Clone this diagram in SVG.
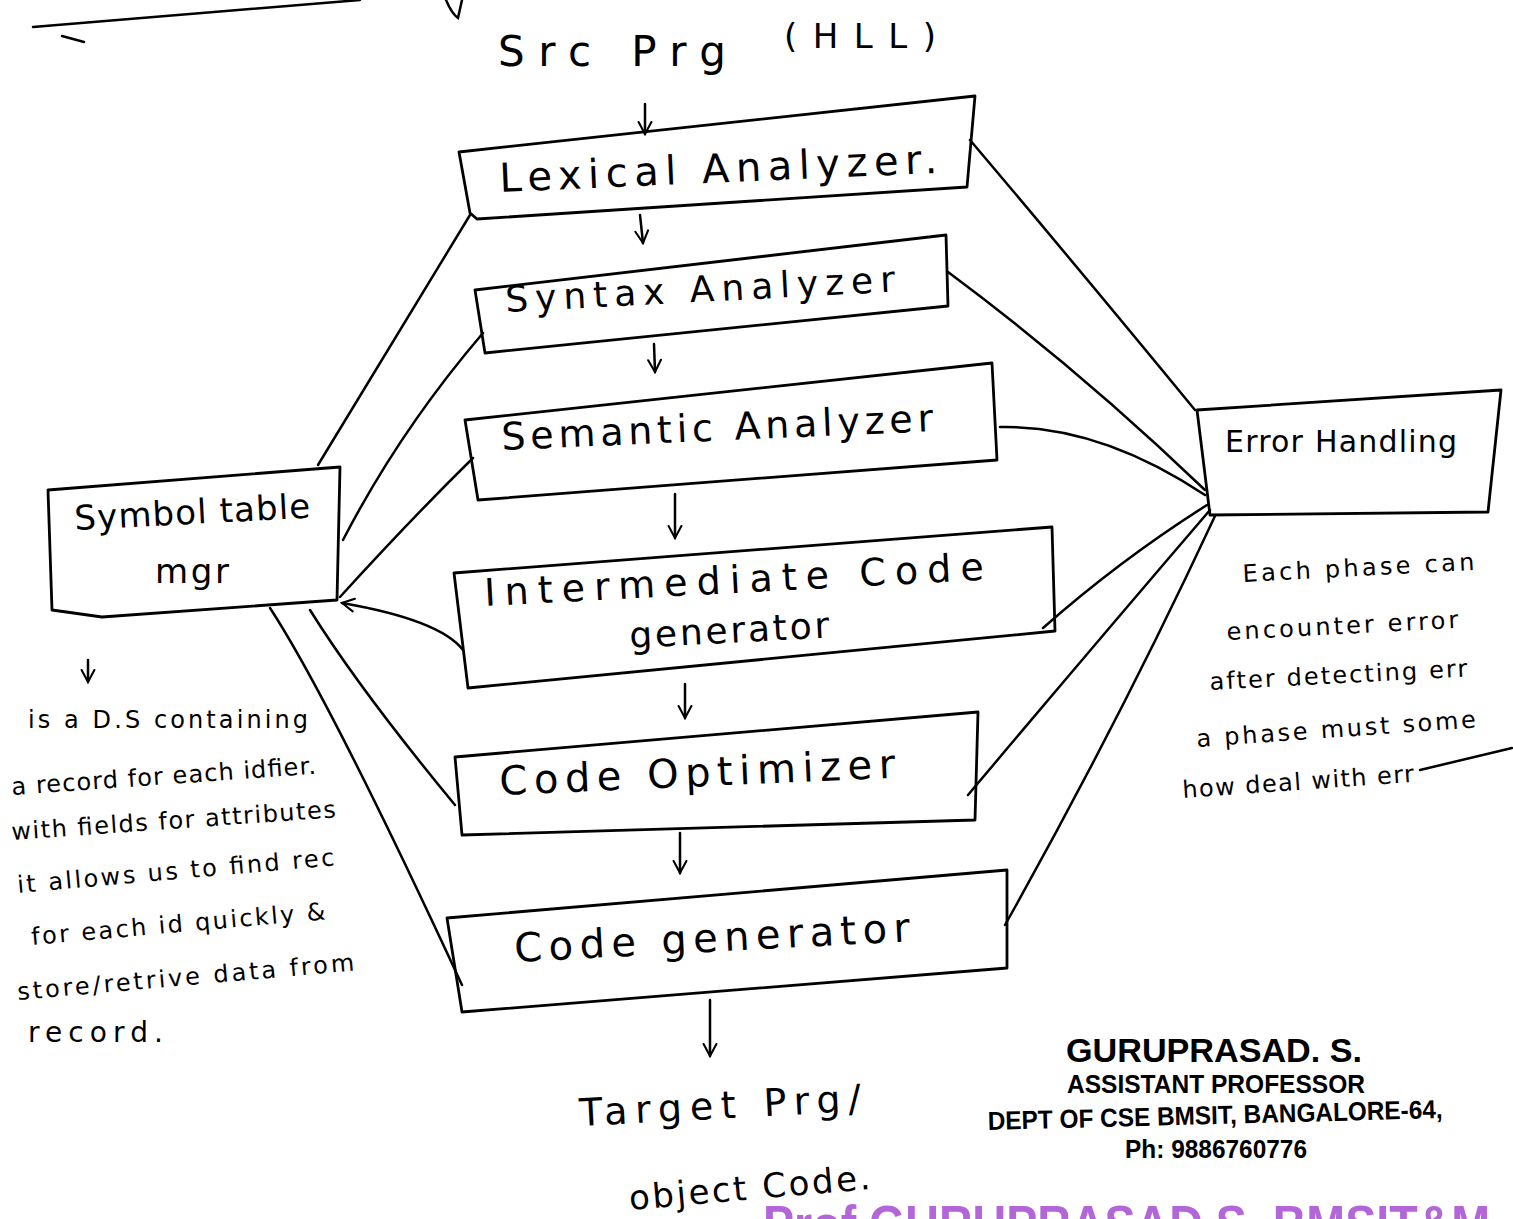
<svg xmlns="http://www.w3.org/2000/svg" width="1513" height="1219" viewBox="0 0 1513 1219">
<style>
.box{fill:none;stroke:#000;stroke-width:2.8;stroke-linejoin:round}
.ln{fill:none;stroke:#000;stroke-width:2.5;stroke-linecap:round}
.hw{font-family:"DejaVu Sans","Liberation Sans",sans-serif;fill:#000;font-weight:normal}
.stamp{font-family:"Liberation Sans",Arial,sans-serif;font-weight:bold;fill:#000}
</style>
<defs>
<marker id="ah" viewBox="0 0 20 20" refX="18" refY="10" markerWidth="16" markerHeight="16" markerUnits="userSpaceOnUse" orient="auto">
<path d="M3 2 L18 10 L3 18" fill="none" stroke="#000" stroke-width="2.6" stroke-linecap="round"/>
</marker>
</defs>
<rect width="1513" height="1219" fill="#fff"/>

<!-- stray top strokes -->
<path class="ln" d="M33 27 L360 0"/>
<path class="ln" d="M62 36 L84 42"/>
<path class="ln" d="M446 0 Q452 14 458 18 L462 0"/>

<g id="src">
<text class="hw" x="498" y="66" font-size="42" textLength="228" lengthAdjust="spacing">Src Prg</text>
<text class="hw" x="784" y="48" font-size="34" textLength="152" lengthAdjust="spacing">(HLL)</text>
</g>

<g id="lexical">
<polygon class="box" points="459,152 975,96 967,187 477,219 470,213"/>
<text class="hw" x="500" y="192" font-size="40" transform="rotate(-2.5 500 192)" textLength="438" lengthAdjust="spacing">Lexical Analyzer.</text>
</g>

<g id="syntax">
<polygon class="box" points="475,290 946,235 948,306 485,353"/>
<text class="hw" x="506" y="312" font-size="36" transform="rotate(-3 506 312)" textLength="390" lengthAdjust="spacing">Syntax Analyzer</text>
</g>

<g id="semantic">
<polygon class="box" points="465,420 992,363 997,460 478,500"/>
<text class="hw" x="502" y="450" font-size="38" transform="rotate(-2.5 502 450)" textLength="432" lengthAdjust="spacing">Semantic Analyzer</text>
</g>

<g id="intermediate">
<polygon class="box" points="454,573 1052,527 1055,631 468,688"/>
<text class="hw" x="485" y="606" font-size="38" transform="rotate(-3 485 606)" textLength="500" lengthAdjust="spacing">Intermediate Code</text>
<text class="hw" x="630" y="648" font-size="36" transform="rotate(-3 630 648)" textLength="200" lengthAdjust="spacing">generator</text>
</g>

<g id="optimizer">
<polygon class="box" points="455,757 978,712 975,820 462,835"/>
<text class="hw" x="500" y="795" font-size="40" transform="rotate(-2.5 500 795)" textLength="396" lengthAdjust="spacing">Code Optimizer</text>
</g>

<g id="codegen">
<polygon class="box" points="447,918 1007,870 1007,968 462,1012"/>
<text class="hw" x="515" y="962" font-size="40" transform="rotate(-3 515 962)" textLength="396" lengthAdjust="spacing">Code generator</text>
</g>

<g id="symtab">
<polygon class="box" points="48,490 340,467 337,600 102,617 52,610"/>
<text class="hw" x="75" y="530" font-size="34" transform="rotate(-3 75 530)" textLength="236" lengthAdjust="spacing">Symbol table</text>
<text class="hw" x="155" y="583" font-size="34" textLength="74" lengthAdjust="spacing">mgr</text>
</g>

<g id="error">
<polygon class="box" points="1197,410 1501,390 1488,512 1210,515"/>
<text class="hw" x="1225" y="452" font-size="30" textLength="232" lengthAdjust="spacing">Error Handling</text>
</g>

<g id="target">
<text class="hw" x="580" y="1126" font-size="38" transform="rotate(-3 580 1126)" textLength="282" lengthAdjust="spacing">Target Prg/</text>
<text class="hw" x="630" y="1210" font-size="34" transform="rotate(-5 630 1210)" textLength="242" lengthAdjust="spacing">object Code.</text>
</g>

<g id="connectors">
<path class="ln" d="M645 104 L645 134" marker-end="url(#ah)"/>
<path class="ln" d="M640 215 L643 243" marker-end="url(#ah)"/>
<path class="ln" d="M654 344 L655 372" marker-end="url(#ah)"/>
<path class="ln" d="M675 494 L675 538" marker-end="url(#ah)"/>
<path class="ln" d="M685 684 L685 718" marker-end="url(#ah)"/>
<path class="ln" d="M680 833 L680 873" marker-end="url(#ah)"/>
<path class="ln" d="M710 1000 L710 1056" marker-end="url(#ah)"/>
<path class="ln" d="M88 660 L88 682" marker-end="url(#ah)"/>
<path class="ln" d="M318 465 Q370 380 470 215"/>
<path class="ln" d="M343 540 Q400 430 483 333"/>
<path class="ln" d="M340 597 Q410 520 473 458"/>
<path class="ln" d="M463 650 Q440 620 342 603" marker-end="url(#ah)"/>
<path class="ln" d="M310 610 Q360 690 455 805"/>
<path class="ln" d="M270 608 Q330 700 462 985"/>
<path class="ln" d="M970 140 Q1080 270 1195 410"/>
<path class="ln" d="M948 272 Q1080 370 1205 490"/>
<path class="ln" d="M1000 427 Q1100 425 1205 495"/>
<path class="ln" d="M1043 628 Q1120 560 1207 505"/>
<path class="ln" d="M968 795 Q1090 650 1210 510"/>
<path class="ln" d="M1005 925 Q1120 720 1215 516"/>
<path class="ln" d="M1420 770 L1512 748"/>
</g>

<g id="notes">
<g class="hw" font-size="24">
<text x="28" y="728" textLength="280" lengthAdjust="spacing">is a D.S containing</text>
<text x="12" y="795" transform="rotate(-4 12 795)" textLength="305" lengthAdjust="spacing">a record for each idfier.</text>
<text x="12" y="840" transform="rotate(-4 12 840)" textLength="325" lengthAdjust="spacing">with fields for attributes</text>
<text x="18" y="893" transform="rotate(-5 18 893)" textLength="318" lengthAdjust="spacing">it allows us to find rec</text>
<text x="32" y="945" transform="rotate(-5 32 945)" textLength="295" lengthAdjust="spacing">for each id quickly &amp;</text>
<text x="18" y="1000" transform="rotate(-5 18 1000)" textLength="338" lengthAdjust="spacing">store/retrive data from</text>
<text x="28" y="1042" font-size="28" textLength="135" lengthAdjust="spacing">record.</text>
</g>
<g class="hw" font-size="24">
<text x="1243" y="582" transform="rotate(-3 1243 582)" textLength="232" lengthAdjust="spacing">Each phase can</text>
<text x="1227" y="640" transform="rotate(-3 1227 640)" textLength="232" lengthAdjust="spacing">encounter error</text>
<text x="1210" y="690" transform="rotate(-3 1210 690)" textLength="258" lengthAdjust="spacing">after detecting err</text>
<text x="1197" y="747" transform="rotate(-4 1197 747)" textLength="280" lengthAdjust="spacing">a phase must some</text>
<text x="1183" y="798" transform="rotate(-4 1183 798)" textLength="232" lengthAdjust="spacing">how deal with err</text>
</g>
</g>

<g id="stamp">
<text class="stamp" x="1066" y="1062" font-size="34" textLength="296" lengthAdjust="spacingAndGlyphs">GURUPRASAD. S.</text>
<text class="stamp" x="1067" y="1093" font-size="26" textLength="298" lengthAdjust="spacingAndGlyphs">ASSISTANT PROFESSOR</text>
<text class="stamp" x="988" y="1130" font-size="26" transform="rotate(-1.5 988 1130)" textLength="455" lengthAdjust="spacingAndGlyphs">DEPT OF CSE BMSIT, BANGALORE-64,</text>
<text class="stamp" x="1125" y="1158" font-size="26" textLength="182" lengthAdjust="spacingAndGlyphs">Ph: 9886760776</text>
</g>

<text x="763" y="1242" font-family="Liberation Sans, Arial, sans-serif" font-weight="bold" font-size="52" fill="#b366d9" textLength="727" lengthAdjust="spacingAndGlyphs">Prof GURUPRASAD S, BMSIT&amp;M</text>
</svg>
